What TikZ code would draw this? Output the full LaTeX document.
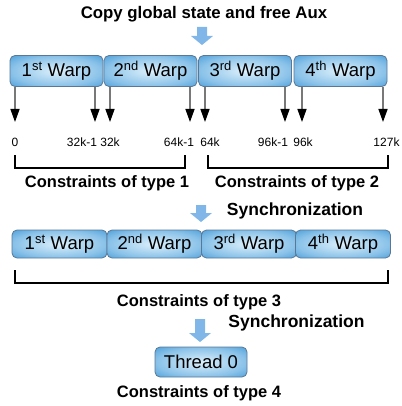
\documentclass[tikz,border=0pt]{standalone}
\usepackage{fontspec}
\setmainfont{Liberation Sans}
\usetikzlibrary{arrows.meta}

\definecolor{warpblue}{RGB}{38,138,210}
\definecolor{warplight}{RGB}{220,240,251}
\definecolor{warpedge}{RGB}{90,120,150}
\definecolor{bigarrow}{RGB}{128,182,232}
\definecolor{shaftgray}{RGB}{120,120,120}
\pgfdeclareradialshading{warpglow}{\pgfpoint{0bp}{0bp}}{color(0bp)=(warplight); color(24bp)=(warpblue!45!warplight); color(44bp)=(warpblue); color(50bp)=(warpblue)}

\begin{document}
\begin{tikzpicture}[x=1pt, y=-1pt,
    warp/.style={draw=warpedge, line width=0.8pt, rounded corners=5pt, shading=warpglow,
        inner sep=0pt, font=\fontsize{18.5}{20}\selectfont},
    caption/.style={font=\fontsize{16.5}{18}\selectfont\bfseries, inner sep=0pt},
    idx/.style={font=\fontsize{12}{14}\selectfont, inner sep=0pt},
    tick/.style={draw=shaftgray, line width=1.4pt, -{Triangle[width=9pt, length=13pt, color=black]}},
    bracket/.style={draw=black, line width=1.5pt}]
    \useasboundingbox (0,0) rectangle (401,406);

    % Titulo y flecha grande
    \node[caption, font=\fontsize{16.8}{18}\selectfont\bfseries] (title) at (204,14) {Copy global state and free Aux};
    \foreach \cx/\ty/\tip in {202/27/45, 201/205/222, 200/319/342} {
        \fill[bigarrow] (\cx-5,\ty) -- (\cx+5,\ty) -- (\cx+5,\tip-9) -- (\cx+11,\tip-9)
            -- (\cx,\tip) -- (\cx-11,\tip-9) -- (\cx-5,\tip-9) -- cycle;
    }

    % Primera fila de warps
    \node[warp, minimum width=93, minimum height=31] (wa1) at (56.5,71) {1\textsuperscript{st} Warp};
    \node[warp, minimum width=93, minimum height=31] (wa2) at (150.5,71) {2\textsuperscript{nd} Warp};
    \node[warp, minimum width=93, minimum height=31] (wa3) at (245,71) {3\textsuperscript{rd} Warp};
    \node[warp, minimum width=93, minimum height=31] (wa4) at (340.5,71) {4\textsuperscript{th} Warp};

    % Flechas hacia los indices
    \foreach \i/\ax in {1/15, 2/95, 3/110, 4/190, 5/205, 6/285, 7/302, 8/383} {
        \coordinate (top\i) at (\ax,87);
        \coordinate (tip\i) at (\ax,122);
        \draw[tick] (top\i) -- (tip\i);
    }

    % Indices
    \foreach \i/\lx/\txt in {1/15/0, 2/82/32k-1, 3/110/32k, 4/179/64k-1, 5/210/64k, 6/273/96k-1, 7/303/96k, 8/386.5/127k} {
        \node[idx] (lbl\i) at (\lx,142) {\txt};
    }

    % Corchetes tipo 1 y 2
    \draw[bracket] (15,155) -- (15,168) -- (185,168) -- (185,155);
    \draw[bracket] (208,155) -- (208,168) -- (388,168) -- (388,155);
    \node[caption] (type1) at (107,183) {Constraints of type 1};
    \node[caption] (type2) at (297,183) {Constraints of type 2};
    \node[caption, font=\fontsize{17.5}{19}\selectfont\bfseries] (sync1) at (295,211) {Synchronization};

    % Segunda fila de warps
    \node[warp, minimum width=95, minimum height=28] (wb1) at (59.5,244) {1\textsuperscript{st} Warp};
    \node[warp, minimum width=95, minimum height=28] (wb2) at (154.5,244) {2\textsuperscript{nd} Warp};
    \node[warp, minimum width=95, minimum height=28] (wb3) at (249,244) {3\textsuperscript{rd} Warp};
    \node[warp, minimum width=95, minimum height=28] (wb4) at (343,244) {4\textsuperscript{th} Warp};

    % Corchete tipo 3
    \draw[bracket] (15,270) -- (15,283) -- (388,283) -- (388,270);
    \node[caption] (type3) at (199,302) {Constraints of type 3};
    \node[caption, font=\fontsize{17.5}{19}\selectfont\bfseries] (sync2) at (296.5,323) {Synchronization};

    % Hilo 0
    \node[warp, minimum width=92, minimum height=30] (thread) at (201,362) {Thread 0};
    \node[caption] (type4) at (199,393) {Constraints of type 4};
\end{tikzpicture}
\end{document}
